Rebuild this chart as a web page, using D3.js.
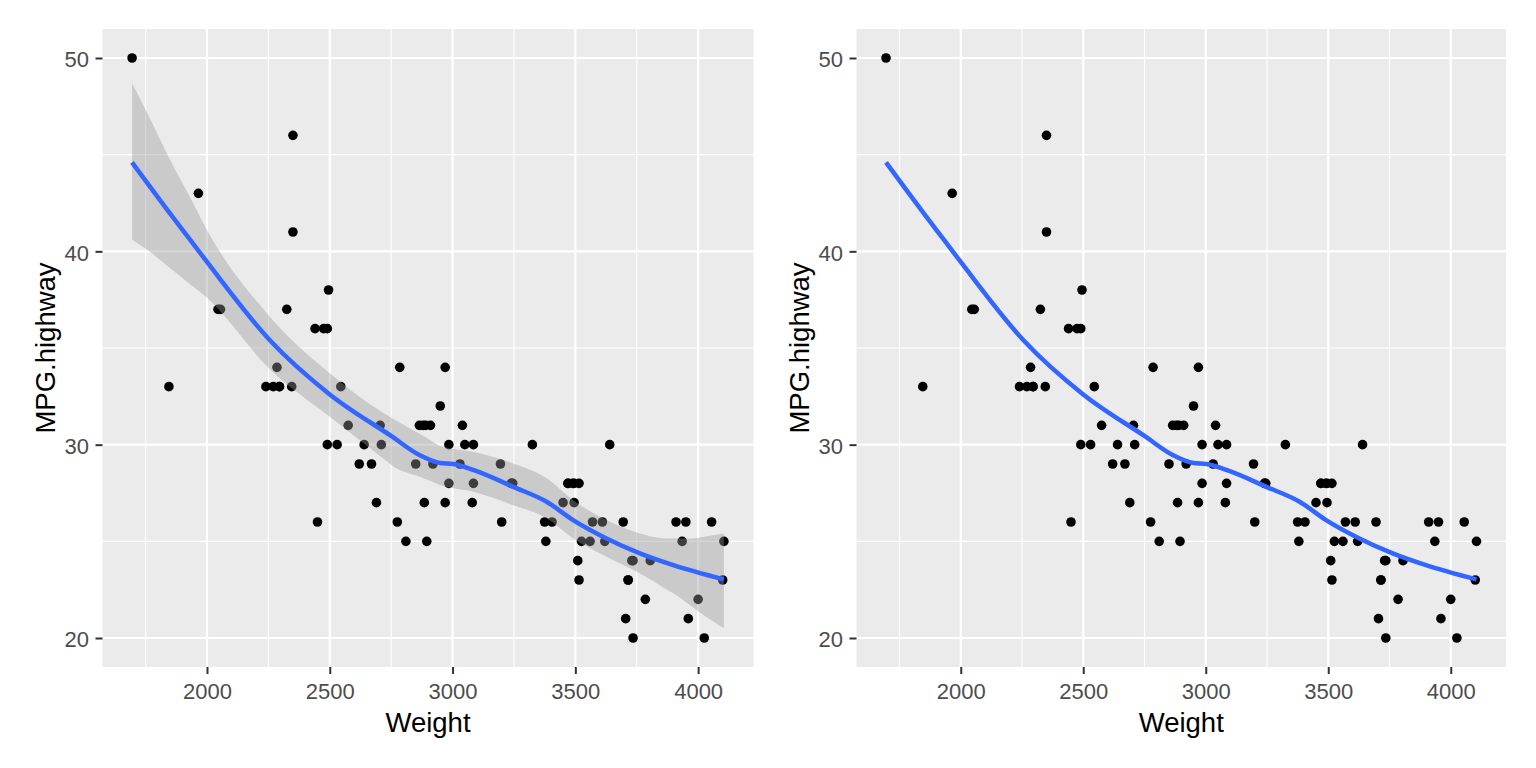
<!DOCTYPE html>
<html>
<head>
<meta charset="utf-8">
<script src="https://cdn.jsdelivr.net/npm/d3@7"></script>
<style>
  html, body { margin: 0; padding: 0; background: #ffffff; }
  svg { display: block; font-family: "Liberation Sans", Arial, sans-serif; }
</style>
</head>
<body>
<svg id="chart" width="1536" height="768"></svg>
<script>
// ---- Data (Cars93: Weight vs MPG.highway) ----
const weight = [2705,3560,3375,3405,3640,2880,3470,4105,3495,3620,3935,2490,2785,3240,3195,3715,4025,3910,3380,3515,
  3085,3570,2270,2670,2970,3705,3080,3805,2295,3490,1845,2530,2690,2850,2710,3735,3325,3950,1695,2475,
  2865,2350,3040,2345,2620,2285,2885,4000,3510,3515,3695,4055,2325,2440,2970,3735,2895,2920,3525,2450,
  3610,2295,3730,2545,3050,4100,3200,2910,2890,3715,3470,2640,2350,2575,3240,3450,3495,2775,2495,2045,
  2490,3085,1965,2055,2950,3030,3785,2240,3960,2985,2810,2985,3245];
const mpgHighway = [31,25,26,26,30,31,28,25,27,25,25,36,34,28,29,23,20,26,25,28,
  28,26,33,29,27,21,27,24,33,28,33,30,27,29,30,20,30,26,50,36,
  31,46,31,33,29,34,27,22,24,23,26,26,37,36,34,24,25,29,25,26,
  26,33,24,33,30,23,26,31,31,23,28,30,41,31,28,27,28,26,38,37,
  30,30,43,37,32,29,22,33,21,30,25,28,28];

// loess smooth
const smoothWeight = [1695,1850,1931,2000,2256,2500,2750,2867,2949,3003,3084,3247,3383,3491,3627,3763,3899,4105];
const smoothFit    = [44.6,41.95,40.6,39.45,35.4,32.6,30.45,29.45,29.05,29.0,28.69,27.82,27.05,26.1,25.15,24.38,23.77,23.03];

// confidence band
const upperWeight = [1695,1755,1849,1931,2000,2256,2500,2750,2895,2949,3084,3247,3383,3491,3627,3763,3872,3981,4105];
const upperValue  = [48.7,47.2,44.75,42.8,41.1,36.62,33.69,31.4,30.35,29.95,29.63,29.03,28.26,27.13,26.1,25.41,25.15,25.15,25.41];
const lowerWeight = [1695,1755,1931,2000,2256,2500,2752,2867,2949,3084,3247,3383,3491,3627,3763,3899,3994,4105];
const lowerValue  = [40.6,40.1,38.3,37.6,33.9,31.44,28.94,28.34,27.91,27.56,26.87,26.19,25.15,24.2,23.34,22.31,21.44,20.5];

const xTicks = [2000,2500,3000,3500,4000];
const xMinor = [1750,2250,2750,3250,3750];
const yTicks = [20,30,40,50];
const yMinor = [25,35,45];
const xTitle = "Weight";
const yTitle = "MPG.highway";

// ---- Layout ----
const panels = [
  { x0: 102.5, x1: 753.5, se: true, yTitleX: 55 },
  { x0: 856.5, x1: 1506, se: false, yTitleX: 809 }
];
const Y0 = 29, Y1 = 667;
const xDomain = [1574.5, 4225.5];
const yDomain = [18.5, 51.5];

const svg = d3.select("#chart");

panels.forEach(p => {
  const x = d3.scaleLinear().domain(xDomain).range([p.x0, p.x1]);
  const y = d3.scaleLinear().domain(yDomain).range([Y1, Y0]);
  const g = svg.append("g");

  g.append("rect").attr("x", p.x0).attr("y", Y0)
    .attr("width", p.x1 - p.x0).attr("height", Y1 - Y0).attr("fill", "#EBEBEB");

  // minor grid
  g.selectAll(".xminor").data(xMinor).join("line")
    .attr("x1", d => x(d)).attr("x2", d => x(d)).attr("y1", Y0).attr("y2", Y1)
    .attr("stroke", "#ffffff").attr("stroke-width", 1.1);
  g.selectAll(".yminor").data(yMinor).join("line")
    .attr("y1", d => y(d)).attr("y2", d => y(d)).attr("x1", p.x0).attr("x2", p.x1)
    .attr("stroke", "#ffffff").attr("stroke-width", 1.1);
  // major grid
  g.selectAll(".xmajor").data(xTicks).join("line")
    .attr("x1", d => x(d)).attr("x2", d => x(d)).attr("y1", Y0).attr("y2", Y1)
    .attr("stroke", "#ffffff").attr("stroke-width", 2.2);
  g.selectAll(".ymajor").data(yTicks).join("line")
    .attr("y1", d => y(d)).attr("y2", d => y(d)).attr("x1", p.x0).attr("x2", p.x1)
    .attr("stroke", "#ffffff").attr("stroke-width", 2.2);

  // points
  g.selectAll(".pt").data(weight.map((w, i) => [w, mpgHighway[i]])).join("circle")
    .attr("cx", d => x(d[0])).attr("cy", d => y(d[1])).attr("r", 4.8).attr("fill", "#000000");

  // ribbon (confidence band)
  if (p.se) {
    const grid = Array.from(new Set(upperWeight.concat(lowerWeight))).sort((a, b) => a - b);
    const upI = d3.scaleLinear().domain(upperWeight).range(upperValue);
    const loI = d3.scaleLinear().domain(lowerWeight).range(lowerValue);
    g.append("path")
      .datum(grid)
      .attr("d", d3.area().curve(d3.curveMonotoneX)
        .x(d => x(d)).y0(d => y(loI(d))).y1(d => y(upI(d))))
      .attr("fill", "#999999").attr("fill-opacity", 0.4).attr("stroke", "none");
  }

  // smooth line
  g.append("path")
    .datum(smoothWeight.map((w, i) => [w, smoothFit[i]]))
    .attr("d", d3.line().curve(d3.curveMonotoneX).x(d => x(d[0])).y(d => y(d[1])))
    .attr("fill", "none").attr("stroke", "#3366FF").attr("stroke-width", 4.5)
    .attr("stroke-linejoin", "round");

  // axes
  const xa = g.append("g").attr("transform", `translate(0,${Y1})`)
    .call(d3.axisBottom(x).tickValues(xTicks).tickSize(7).tickPadding(9.5).tickFormat(d3.format("d")));
  const ya = g.append("g").attr("transform", `translate(${p.x0},0)`)
    .call(d3.axisLeft(y).tickValues(yTicks).tickSize(7).tickPadding(6.5).tickFormat(d3.format("d")));
  [xa, ya].forEach(a => {
    a.select(".domain").remove();
    a.selectAll(".tick line").attr("stroke", "#333333").attr("stroke-width", 2);
    a.selectAll(".tick text").attr("fill", "#4D4D4D").style("font-size", "22px")
      .style("font-family", "'Liberation Sans', Arial, sans-serif");
  });
  ya.selectAll(".tick text").attr("dy", "0.4em");

  // titles
  g.append("text").attr("x", (p.x0 + p.x1) / 2).attr("y", 732)
    .attr("text-anchor", "middle").attr("fill", "#000000").style("font-size", "27.5px")
    .text(xTitle);
  g.append("text").attr("transform", `translate(${p.yTitleX},${(Y0 + Y1) / 2}) rotate(-90)`)
    .attr("text-anchor", "middle").attr("fill", "#000000").style("font-size", "27.5px")
    .text(yTitle);
});
</script>
</body>
</html>
